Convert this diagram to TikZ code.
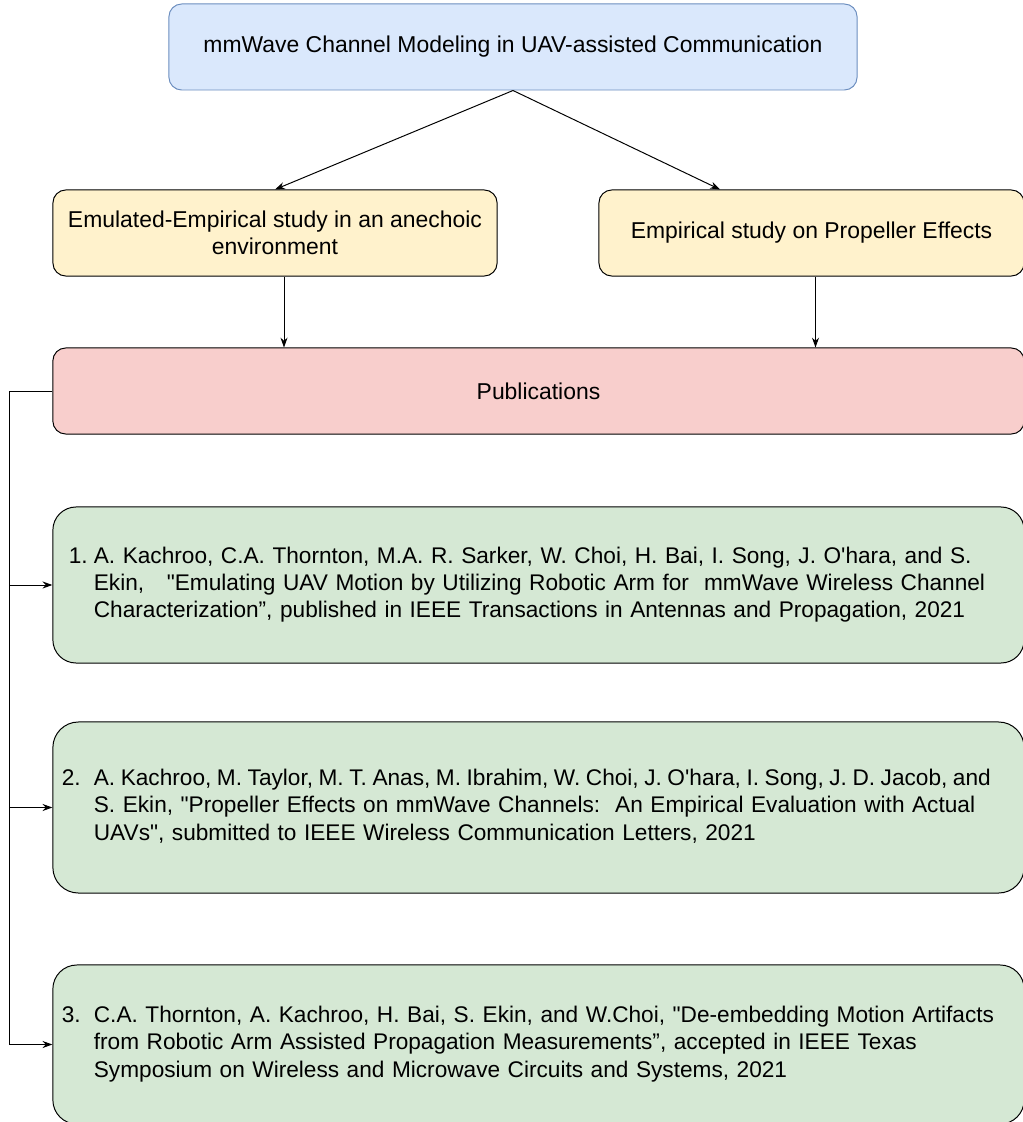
\documentclass[tikz,border=0pt]{standalone}
\usepackage{fontspec}
\setmainfont{Liberation Sans}
\usetikzlibrary{arrows.meta, positioning}

\definecolor{topblue}{HTML}{DAE8FC}
\definecolor{topline}{HTML}{6C8EBF}
\definecolor{studyyellow}{HTML}{FFF2CC}
\definecolor{pubred}{HTML}{F8CECC}
\definecolor{papergreen}{HTML}{D5E8D4}

\frenchspacing

\begin{document}
\begin{tikzpicture}[x=0.025cm, y=-0.025cm,
    every node/.style = {font=\fontsize{16.3}{19.4}\selectfont},
    box/.style = {draw, line width=0.7pt, rounded corners=0.32cm, align=center,
        inner sep=0pt, minimum height=2.15cm},
    paper/.style = {box, fill=papergreen, align=left, text width=24.025cm,
        inner xsep=0.125cm, font=\fontsize{16.1}{19.4}\selectfont},
    arr/.style = {-{Stealth[length=7pt, width=5pt]}, line width=0.7pt}]

    \useasboundingbox (0,0) rectangle (1023,1122);
    \clip (0,0) rectangle (1023,1122);

    \node (top) [box, draw=topline, fill=topblue, minimum width=17.2cm] at (513,47)
        {mmWave Channel Modeling in UAV-assisted Communication};

    \node (emu) [box, fill=studyyellow, minimum width=11.1cm] at (275,233)
        {Emulated-Empirical study in an anechoic\\environment};
    \node (prop) [box, fill=studyyellow, minimum width=10.625cm] at (811.5,233)
        {Empirical study on Propeller Effects};

    \node (pubs) [box, fill=pubred, minimum width=24.275cm] at (538.5,391) {Publications};

    \node (p1) [paper, rounded corners=0.58cm, minimum height=3.9cm] at (538.5,585)
        {\begin{tabular}{@{}p{0.9cm}@{}l@{}}
        \hspace*{0.275cm}1. & A. Kachroo, C.A. Thornton, M.A. R. Sarker, W. Choi, H. Bai, I. Song, J. O\textquotesingle hara, and S.\\
        & Ekin, \ \ \textquotedbl Emulating UAV Motion by Utilizing Robotic Arm for \ mmWave Wireless Channel\\
        & Characterization”, published in IEEE Transactions in Antennas and Propagation, 2021
        \end{tabular}};
    \node (p2) [paper, rounded corners=0.64cm, minimum height=4.275cm] at (538.5,807.5)
        {\begin{tabular}{@{}p{0.9cm}@{}l@{}}
        \hspace*{0.1cm}2. & \spaceskip=0.245em\relax A. Kachroo, M. Taylor, M. T. Anas, M. Ibrahim, W. Choi, J. O\textquotesingle hara, I. Song, J. D. Jacob, and\\
        & S. Ekin, \textquotedbl Propeller Effects on mmWave Channels: \ An Empirical Evaluation with Actual\\
        & UAVs\textquotedbl, submitted to IEEE Wireless Communication Letters, 2021
        \end{tabular}};
    \node (p3) [paper, rounded corners=0.6cm, minimum height=3.975cm] at (538.5,1044.5)
        {\begin{tabular}{@{}p{0.9cm}@{}l@{}}
        \hspace*{0.1cm}3. & C.A. Thornton, A. Kachroo, H. Bai, S. Ekin, and W.Choi, \textquotedbl De-embedding Motion Artifacts\\
        & from Robotic Arm Assisted Propagation Measurements”, accepted in IEEE Texas\\
        & Symposium on Wireless and Microwave Circuits and Systems, 2021
        \end{tabular}};

    \path (emu.south) ++(9,0) coordinate (emuout);
    \path (prop.south) ++(4,0) coordinate (propout);
    \path (prop.north) ++(-91.5,0) coordinate (propin);

\path [arr]
    (top.south) edge (emu.north)
    (top.south) edge (propin)
    (emuout) edge (emuout |- pubs.north)
    (propout) edge (propout |- pubs.north);

    \foreach \p in {p1,p2,p3}
        \draw [arr] (pubs.west) -- ++(-43,0) |- (\p.west);

\end{tikzpicture}
\end{document}
